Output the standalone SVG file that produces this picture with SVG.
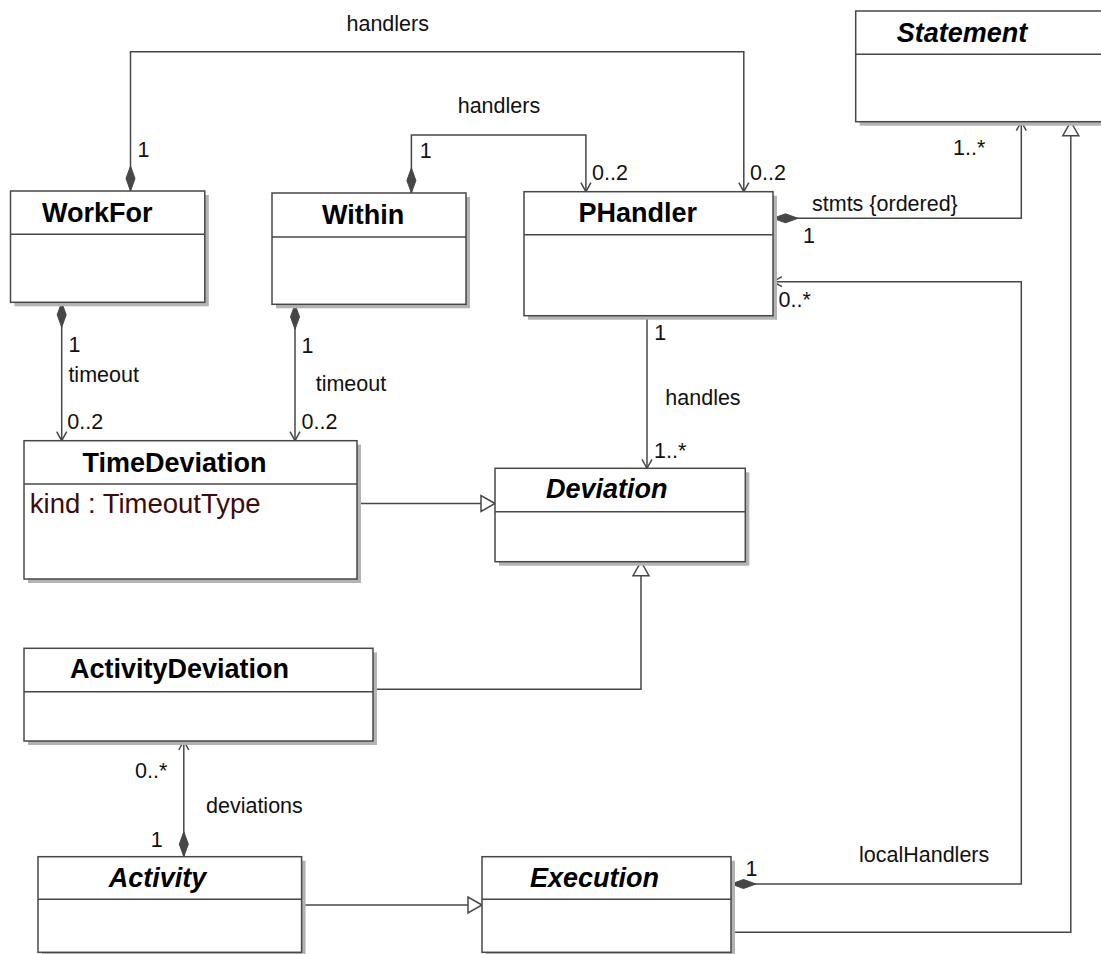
<svg xmlns="http://www.w3.org/2000/svg" width="1101" height="954" viewBox="0 0 1101 954">
<style>
.box{fill:#fff;stroke:#474747;stroke-width:1.5}
.shadow{fill:#b3b3b3;stroke:none}
.div{stroke:#474747;stroke-width:1.5}
.title{font-family:"Liberation Sans",Arial,sans-serif;font-weight:bold;font-size:27px;fill:#000}
.abstract{font-style:italic}
.attr{font-family:"Liberation Sans",Arial,sans-serif;font-size:27.5px;fill:#3d0c0c}
.lbl{font-family:"Liberation Sans",Arial,sans-serif;font-size:21.5px;fill:#111}
.conn{fill:none;stroke:#474747;stroke-width:1.5}
</style>
<defs>
<marker id="diamond" markerUnits="userSpaceOnUse" orient="auto" refX="0" refY="0" markerWidth="30" markerHeight="12" overflow="visible">
<path d="M0,0 L12.5,-4.5 L25,0 L12.5,4.5 Z" fill="#474747" stroke="#474747" stroke-width="1"/>
</marker>
<marker id="open" markerUnits="userSpaceOnUse" orient="auto" refX="0" refY="0" markerWidth="12" markerHeight="12" overflow="visible">
<path d="M-9,-5 L0,0 L-9,5" fill="none" stroke="#474747" stroke-width="1.5"/>
</marker>
<marker id="tri" markerUnits="userSpaceOnUse" orient="auto" refX="0" refY="0" markerWidth="16" markerHeight="18" overflow="visible">
<path d="M0,0 L-14,-8 L-14,8 Z" fill="#fff" stroke="#474747" stroke-width="1.5"/>
</marker>
</defs>

<g id="connectors">
<path class="conn" d="M130.5,191 V51.7 H743.8 V191.7" marker-start="url(#diamond)" marker-end="url(#open)"/>
<path class="conn" d="M411.4,193 V135 H585.9 V191.7" marker-start="url(#diamond)" marker-end="url(#open)"/>
<path class="conn" d="M773,218.3 H1021.3 V121.7" marker-start="url(#diamond)" marker-end="url(#open)"/>
<path class="conn" d="M731,884 H1021.3 V281.7 H773" marker-start="url(#diamond)" marker-end="url(#open)"/>
<path class="conn" d="M647,315.7 V468.3" marker-end="url(#open)"/>
<path class="conn" d="M61.7,302.3 V440.7" marker-start="url(#diamond)" marker-end="url(#open)"/>
<path class="conn" d="M295,304.3 V440.7" marker-start="url(#diamond)" marker-end="url(#open)"/>
<path class="conn" d="M183.8,856.7 V741" marker-start="url(#diamond)" marker-end="url(#open)"/>
<path class="conn" d="M357,503.5 H495" marker-end="url(#tri)"/>
<path class="conn" d="M372.9,689.3 H641 V561.7" marker-end="url(#tri)"/>
<path class="conn" d="M301.6,905 H482" marker-end="url(#tri)"/>
<path class="conn" d="M731,932.3 H1070.8 V121.7" marker-end="url(#tri)"/>
<text class="lbl" x="346.5" y="31">handlers</text>
<text class="lbl" x="137.5" y="157">1</text>
<text class="lbl" x="750" y="180">0..2</text>
<text class="lbl" x="457.7" y="113">handlers</text>
<text class="lbl" x="419.8" y="158">1</text>
<text class="lbl" x="592" y="180">0..2</text>
<text class="lbl" x="812" y="211">stmts {ordered}</text>
<text class="lbl" x="803" y="243">1</text>
<text class="lbl" x="953" y="155">1..*</text>
<text class="lbl" x="778.6" y="307">0..*</text>
<text class="lbl" x="859" y="862">localHandlers</text>
<text class="lbl" x="745.6" y="876">1</text>
<text class="lbl" x="654.3" y="340">1</text>
<text class="lbl" x="665.3" y="405">handles</text>
<text class="lbl" x="654" y="458">1..*</text>
<text class="lbl" x="68.4" y="352">1</text>
<text class="lbl" x="68.4" y="382">timeout</text>
<text class="lbl" x="67.3" y="429">0..2</text>
<text class="lbl" x="301.6" y="353">1</text>
<text class="lbl" x="315.7" y="391">timeout</text>
<text class="lbl" x="301.6" y="429">0..2</text>
<text class="lbl" x="135" y="778">0..*</text>
<text class="lbl" x="206" y="813">deviations</text>
<text class="lbl" x="150.8" y="847">1</text>
</g>

<g id="WorkFor">
<rect class="shadow" x="14.5" y="195" width="194.3" height="111.3"/>
<rect class="box" x="10.5" y="191" width="194.3" height="111.3"/>
<line class="div" x1="10.5" y1="234.3" x2="204.8" y2="234.3"/>
<text class="title" x="42" y="222">WorkFor</text>
</g>

<g id="Within">
<rect class="shadow" x="276" y="197" width="194" height="111.3"/>
<rect class="box" x="272" y="193" width="194" height="111.3"/>
<line class="div" x1="272" y1="237" x2="466" y2="237"/>
<text class="title" x="322" y="224">Within</text>
</g>

<g id="PHandler">
<rect class="shadow" x="528" y="195.7" width="249" height="124"/>
<rect class="box" x="524" y="191.7" width="249" height="124"/>
<line class="div" x1="524" y1="234.7" x2="773" y2="234.7"/>
<text class="title" x="578.6" y="222">PHandler</text>
</g>

<g id="Statement">
<rect class="shadow" x="859.7" y="15" width="250" height="110.7"/>
<rect class="box" x="855.7" y="11" width="250" height="110.7"/>
<line class="div" x1="855.7" y1="54.3" x2="1105.7" y2="54.3"/>
<text class="title abstract" x="896.7" y="42">Statement</text>
</g>

<g id="TimeDeviation">
<rect class="shadow" x="28" y="444.7" width="333" height="138.3"/>
<rect class="box" x="24" y="440.7" width="333" height="138.3"/>
<line class="div" x1="24" y1="484" x2="357" y2="484"/>
<text class="title" x="82.4" y="472">TimeDeviation</text>
<text class="attr" x="29.8" y="513">kind : TimeoutType</text>
</g>

<g id="Deviation">
<rect class="shadow" x="499" y="472.3" width="250.3" height="93.4"/>
<rect class="box" x="495" y="468.3" width="250.3" height="93.4"/>
<line class="div" x1="495" y1="511.7" x2="745.3" y2="511.7"/>
<text class="title abstract" x="546" y="498">Deviation</text>
</g>

<g id="ActivityDeviation">
<rect class="shadow" x="28" y="652.3" width="349" height="92.7"/>
<rect class="box" x="24" y="648.3" width="349" height="92.7"/>
<line class="div" x1="24" y1="691.7" x2="373" y2="691.7"/>
<text class="title" x="70" y="678">ActivityDeviation</text>
</g>

<g id="Activity">
<rect class="shadow" x="42" y="860.7" width="263.6" height="95.6"/>
<rect class="box" x="38" y="856.7" width="263.6" height="95.6"/>
<line class="div" x1="38" y1="899.3" x2="301.6" y2="899.3"/>
<text class="title abstract" x="108.7" y="887">Activity</text>
</g>

<g id="Execution">
<rect class="shadow" x="486" y="860.7" width="249" height="95.6"/>
<rect class="box" x="482" y="856.7" width="249" height="95.6"/>
<line class="div" x1="482" y1="899.3" x2="731" y2="899.3"/>
<text class="title abstract" x="530" y="887">Execution</text>
</g>
</svg>
